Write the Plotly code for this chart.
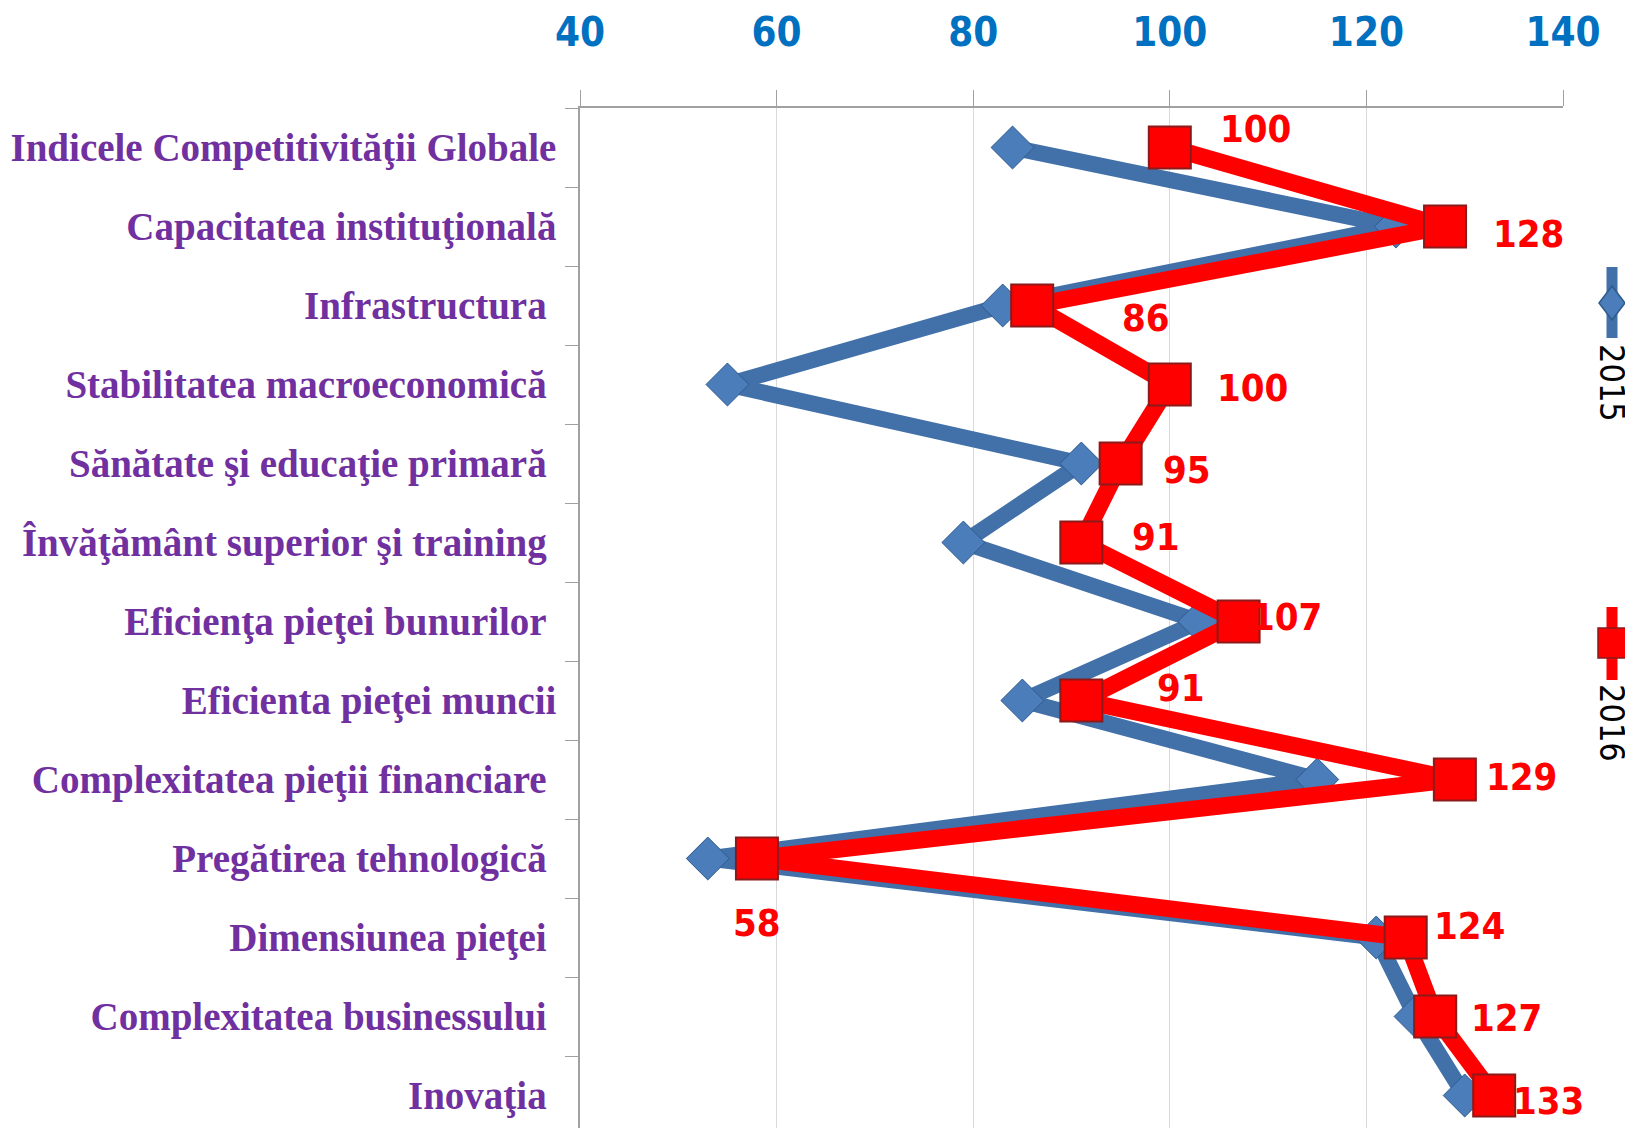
import plotly.graph_objects as go

categories = [
    "Indicele Competitivităţii Globale",
    "Capacitatea instituţională",
    "Infrastructura",
    "Stabilitatea macroeconomică",
    "Sănătate şi educaţie primară",
    "Învăţământ superior şi training",
    "Eficienţa pieţei bunurilor",
    "Eficienta pieţei muncii",
    "Complexitatea pieţii financiare",
    "Pregătirea tehnologică",
    "Dimensiunea pieţei",
    "Complexitatea businessului",
    "Inovaţia",
]
values_2015 = [84, 123, 83, 55, 91, 79, 103, 85, 115, 53, 121, 125, 130]
values_2016 = [100, 128, 86, 100, 95, 91, 107, 91, 129, 58, 124, 127, 133]
x_ticks = [40, 60, 80, 100, 120, 140]

# label offsets in pixels (dx right, dy down) for the 2016 data labels
label_offsets = [(86, -19), (83, 7), (114, 12), (83, 3), (66, 6), (75, -6), (48, -5),
                 (100, -13), (67, -3), (0, 64), (64, -12), (71, 1), (54, 5)]
# labels in the source that end slightly further left (trailing space)
padded = {2, 3, 4, 5, 6, 8, 9, 10, 11, 12}
tick_text = [c + ("\u00a0" if i in padded else "") for i, c in enumerate(categories)]

OFF = 8  # page body margin
W, H = 1633 - OFF, 1128 - OFF
L, R, T, B = 580 - OFF, 70, 108 - OFF, 0
PW, PH = W - L - R, H - T - B

NARROW = "DejaVu Sans Condensed, Liberation Sans Narrow, sans-serif"
BLUE_LINE = "#4270A8"
BLUE_MK = "#4A7DBA"
RED = "#FF0000"

fig = go.Figure()
fig.add_trace(go.Scatter(
    x=values_2015, y=categories, mode="lines+markers", name="2015",
    line=dict(color=BLUE_LINE, width=16),
    marker=dict(symbol="diamond", size=33, color=BLUE_MK,
                line=dict(color="#2F5A8C", width=1)),
))
fig.add_trace(go.Scatter(
    x=values_2016, y=categories, mode="lines+markers", name="2016",
    line=dict(color=RED, width=17),
    marker=dict(symbol="square", size=42, color=RED,
                line=dict(color="#8B1A1A", width=2)),
))

for i, (v, c) in enumerate(zip(values_2016, categories)):
    dx, dy = label_offsets[i]
    fig.add_annotation(x=v, y=c, xref="x", yref="y", text=str(v), showarrow=False,
                       xshift=dx, yshift=-dy, xanchor="center", yanchor="middle",
                       font=dict(family=NARROW, size=38, color=RED, weight="bold"))


def px2paper(px, py):
    # page pixel -> paper coords
    return (px - OFF - L) / PW, (H - (py - OFF)) / PH


# custom rotated legend
legend_items = [
    ("2015", BLUE_LINE, BLUE_MK, "#2F5A8C", "diamond", 267, 338, 303, 383),
    ("2016", RED, RED, "#8B1A1A", "square", 607, 680, 643, 723),
]
for name, lc, mc, oc, sym, y0, y1, ym, yt in legend_items:
    xa, ya0 = px2paper(1612, y0)
    _, ya1 = px2paper(1612, y1)
    fig.add_shape(type="line", xref="paper", yref="paper", x0=xa, x1=xa, y0=ya0, y1=ya1,
                  line=dict(color=lc, width=11))
    _, yam = px2paper(1612, ym)
    if sym == "diamond":
        path = "M 0,17 L 13,0 L 0,-17 L -13,0 Z"
    else:
        path = "M -14,-15 L 14,-15 L 14,15 L -14,15 Z"
    fig.add_shape(type="path", xref="paper", yref="paper", xsizemode="pixel", ysizemode="pixel",
                  xanchor=xa, yanchor=yam, path=path, fillcolor=mc, line=dict(color=oc, width=1.5))
    _, yat = px2paper(1612, yt)
    fig.add_annotation(x=xa, y=yat, xref="paper", yref="paper", text=name, showarrow=False,
                       textangle=90, xanchor="center", yanchor="middle",
                       font=dict(family=NARROW, size=34, color="#000000"))

fig.update_layout(
    width=W, height=H,
    margin=dict(l=L, r=R, t=T, b=B, pad=0),
    paper_bgcolor="white", plot_bgcolor="white",
    showlegend=False,
    xaxis=dict(
        side="top", range=[40, 140], tickvals=x_ticks, ticktext=[str(t) for t in x_ticks],
        showgrid=True, gridcolor="#D9D9D9", gridwidth=1,
        showline=True, linecolor="#A0A0A0", linewidth=2,
        ticks="outside", ticklen=16, tickcolor="#A0A0A0", tickwidth=1,
        tickfont=dict(family=NARROW, size=40, color="#0070C0", weight="bold"),
        ticklabelstandoff=28, zeroline=False, automargin=False,
    ),
    yaxis=dict(
        type="category", categoryarray=categories,
        tickvals=categories, ticktext=tick_text,
        range=[-0.5 + PH / 79.0, -0.5],
        showgrid=False, showline=True, linecolor="#A0A0A0", linewidth=1.5,
        ticks="outside", ticklen=13, tickcolor="#A0A0A0", tickson="boundaries",
        tickfont=dict(family="Times New Roman, Liberation Serif, serif", size=39,
                      color="#7030A0", weight="bold"),
        ticklabelstandoff=14, automargin=False,
    ),
)

fig.write_html("out.html")
